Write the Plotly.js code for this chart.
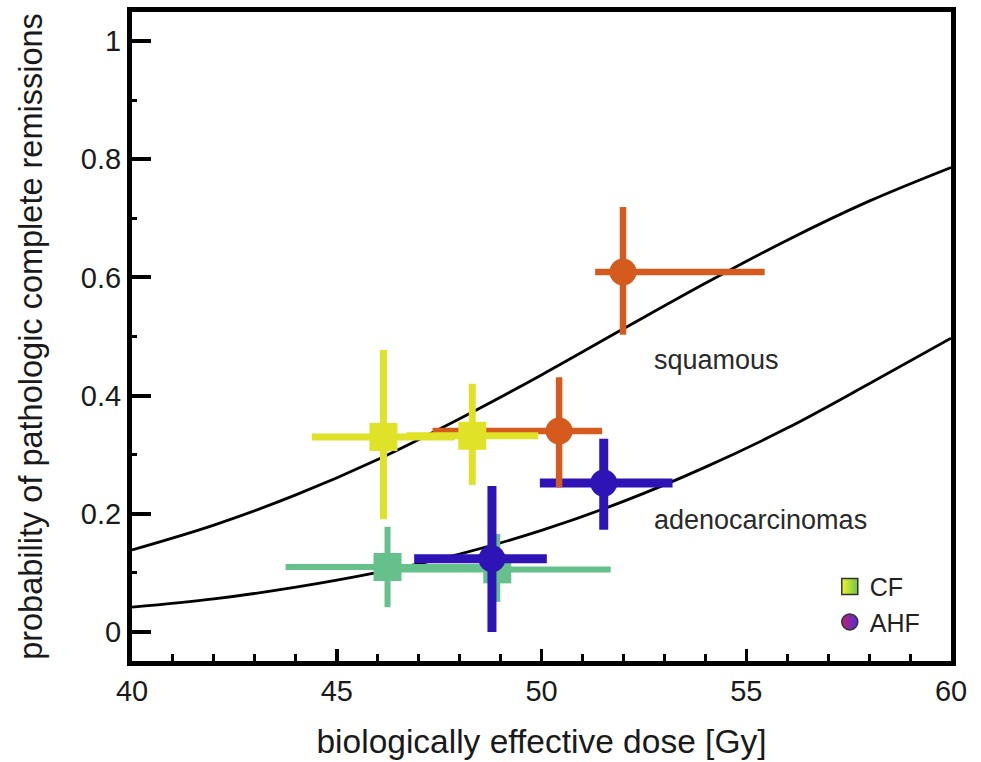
<!DOCTYPE html>
<html>
<head>
<meta charset="utf-8">
<script src="https://cdn.plot.ly/plotly-3.0.1.min.js"></script>
<style>html,body{margin:0;padding:0;background:#fff;}#chart{width:981px;height:762px;}</style>
</head>
<body>
<div id="chart"></div>
<script>
// Dose-response curves
const curveDose = [40, 42, 44, 46, 48, 50, 52, 54, 56, 58, 60];
const squamousProb = [0.139, 0.181, 0.232, 0.292, 0.361, 0.435, 0.513, 0.590, 0.663, 0.729, 0.786];
const adenoProb = [0.042, 0.056, 0.076, 0.101, 0.132, 0.172, 0.221, 0.279, 0.345, 0.420, 0.497];

// CF squamous (yellow squares)
const cfSqDose = [46.14, 48.31];
const cfSqProb = [0.330, 0.332];
const cfSqDoseErrPlus = [1.75, 1.61];
const cfSqDoseErrMinus = [1.75, 1.61];
const cfSqProbErrPlus = [0.147, 0.088];
const cfSqProbErrMinus = [0.139, 0.083];

// CF adenocarcinoma (green squares)
const cfAdDose = [46.24, 48.92];
const cfAdProb = [0.110, 0.106];
const cfAdDoseErrPlus = [2.49, 2.77];
const cfAdDoseErrMinus = [2.49, 2.77];
const cfAdProbErrPlus = [0.068, 0.060];
const cfAdProbErrMinus = [0.068, 0.055];

// AHF squamous (orange circles)
const ahfSqDose = [50.43, 51.99];
const ahfSqProb = [0.340, 0.609];
const ahfSqDoseErrPlus = [1.05, 3.46];
const ahfSqDoseErrMinus = [3.09, 0.68];
const ahfSqProbErrPlus = [0.091, 0.110];
const ahfSqProbErrMinus = [0.095, 0.106];

// AHF adenocarcinoma (blue circles)
const ahfAdDose = [48.79, 51.52];
const ahfAdProb = [0.124, 0.252];
const ahfAdDoseErrPlus = [1.34, 1.68];
const ahfAdDoseErrMinus = [1.90, 1.56];
const ahfAdProbErrPlus = [0.123, 0.075];
const ahfAdProbErrMinus = [0.124, 0.079];

const curveLabels = ['squamous', 'adenocarcinomas'];
const legendNames = ['CF', 'AHF'];
const yTickVals = [0, 0.2, 0.4, 0.6, 0.8, 1];
const yTickText = ['0', '0.2', '0.4', '0.6', '0.8', '1'];
const xTickVals = [40, 45, 50, 55, 60];
const xTickText = ['40', '45', '50', '55', '60'];

const FONT = 'Liberation Sans, Arial, Helvetica, sans-serif';

function pts(x, y, xp, xm, yp, ym, color, sym, size, thick) {
  return {
    x: x, y: y, type: 'scatter', mode: 'markers', showlegend: false, hoverinfo: 'skip',
    marker: {symbol: sym, size: size, color: color, line: {width: 0}},
    error_x: {type: 'data', symmetric: false, array: xp, arrayminus: xm, color: color, thickness: thick, width: 0},
    error_y: {type: 'data', symmetric: false, array: yp, arrayminus: ym, color: color, thickness: thick, width: 0}
  };
}

const traces = [
  {x: curveDose, y: squamousProb, type: 'scatter', mode: 'lines', line: {color: '#000', width: 2.8, shape: 'spline'}, showlegend: false, hoverinfo: 'skip'},
  {x: curveDose, y: adenoProb, type: 'scatter', mode: 'lines', line: {color: '#000', width: 2.8, shape: 'spline'}, showlegend: false, hoverinfo: 'skip'},
  pts(cfAdDose, cfAdProb, cfAdDoseErrPlus, cfAdDoseErrMinus, cfAdProbErrPlus, cfAdProbErrMinus, '#66C08C', 'square', 28, 6),
  pts(ahfAdDose, ahfAdProb, ahfAdDoseErrPlus, ahfAdDoseErrMinus, ahfAdProbErrPlus, ahfAdProbErrMinus, '#2E14B6', 'circle', 27, 9),
  pts(ahfSqDose, ahfSqProb, ahfSqDoseErrPlus, ahfSqDoseErrMinus, ahfSqProbErrPlus, ahfSqProbErrMinus, '#D45A1E', 'circle', 27, 6.5),
  pts(cfSqDose, cfSqProb, cfSqDoseErrPlus, cfSqDoseErrMinus, cfSqProbErrPlus, cfSqProbErrMinus, '#E0E228', 'square', 28, 7),
  {x: [null], y: [null], type: 'scatter', mode: 'markers', name: legendNames[0], showlegend: true,
   marker: {symbol: 'square', size: 16, color: '#F2F22A', gradient: {type: 'horizontal', color: '#6CC848'}, line: {color: '#333', width: 1.5}}},
  {x: [null], y: [null], type: 'scatter', mode: 'markers', name: legendNames[1], showlegend: true,
   marker: {symbol: 'circle', size: 16, color: '#C0206A', gradient: {type: 'horizontal', color: '#5030E0'}, line: {color: '#333', width: 1.5}}}
];

const layout = {
  width: 981, height: 762,
  margin: {l: 132, r: 30, t: 12, b: 101},
  paper_bgcolor: '#fff', plot_bgcolor: '#fff',
  font: {family: FONT, color: '#1a1a1a'},
  showlegend: true,
  legend: {x: 0.852, y: 0.15, xanchor: 'left', yanchor: 'top', font: {family: FONT, size: 25, color: '#222'},
           bgcolor: 'rgba(0,0,0,0)', itemwidth: 30, tracegroupgap: 0},
  xaxis: {
    range: [40, 60], tickmode: 'array', tickvals: xTickVals, ticktext: xTickText,
    ticks: 'inside', ticklen: 12, tickwidth: 3.5, tickcolor: '#000',
    minor: {dtick: 1, tick0: 40, ticks: 'inside', ticklen: 7, tickwidth: 3, tickcolor: '#000'},
    showline: true, linewidth: 5, linecolor: '#000', mirror: true, showgrid: false, zeroline: false,
    tickfont: {family: FONT, size: 29, color: '#1a1a1a'},
    title: {text: 'biologically effective dose [Gy]', font: {family: FONT, size: 33.5, color: '#1a1a1a'}, standoff: 25}
  },
  yaxis: {
    range: [-0.049, 1.049], tickmode: 'array', tickvals: yTickVals, ticktext: yTickText,
    ticks: 'inside', ticklen: 19, tickwidth: 4, tickcolor: '#000',
    minor: {dtick: 0.1, tick0: 0, ticks: 'inside', ticklen: 5, tickwidth: 3, tickcolor: '#000'},
    showline: true, linewidth: 5, linecolor: '#000', mirror: true, showgrid: false, zeroline: false,
    tickfont: {family: FONT, size: 29, color: '#1a1a1a'},
    title: {text: 'probability of pathologic complete remissions', font: {family: FONT, size: 32.5, color: '#1a1a1a'}, standoff: 30}
  },
  annotations: [
    {x: 52.69, y: 0.46, xref: 'x', yref: 'y', text: curveLabels[0], showarrow: false, xanchor: 'left', yanchor: 'middle',
     font: {family: FONT, size: 27, color: '#2a2a2a'}},
    {x: 52.69, y: 0.19, xref: 'x', yref: 'y', text: curveLabels[1], showarrow: false, xanchor: 'left', yanchor: 'middle',
     font: {family: FONT, size: 27, color: '#2a2a2a'}}
  ]
};

Plotly.newPlot('chart', traces, layout, {displayModeBar: false, staticPlot: true});
</script>
</body>
</html>
